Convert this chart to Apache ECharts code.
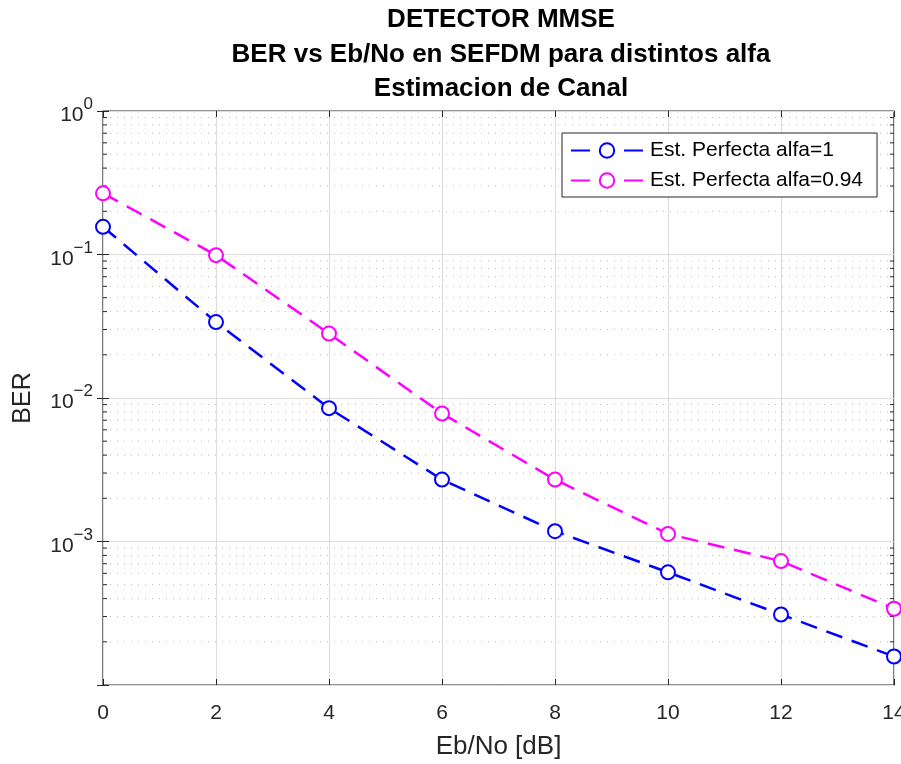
<!DOCTYPE html>
<html>
<head>
<meta charset="utf-8">
<script src="https://cdn.jsdelivr.net/npm/echarts@6/dist/echarts.min.js"></script>
<style>
html,body{margin:0;padding:0;background:#fff;}
#chart{width:901px;height:764px;}
</style>
</head>
<body>
<div id="chart"></div>
<script>
// ---- data ----
const ebNo = [0, 2, 4, 6, 8, 10, 12, 14];
const berAlfa1 = [0.156, 0.0338, 0.0085, 0.0027, 0.00118, 6.1e-4, 3.1e-4, 1.58e-4];
const berAlfa094 = [0.267, 0.099, 0.0281, 0.0078, 0.0027, 1.13e-3, 7.3e-4, 3.4e-4];
const seriesNames = ['Est. Perfecta alfa=1', 'Est. Perfecta alfa=0.94'];
const yDecades = [-4, -3, -2, -1, 0];
const xTicks = [0, 2, 4, 6, 8, 10, 12, 14];
const minorMultipliers = [2, 3, 4, 5, 6, 7, 8, 9];

const titleLines = ['DETECTOR MMSE', 'BER vs Eb/No en SEFDM para distintos alfa', 'Estimacion de Canal'];

const minorValues = [];
yDecades.slice(0, -1).forEach(function (d) {
  minorMultipliers.forEach(function (m) { minorValues.push(m * Math.pow(10, d)); });
});

const FONT = 'Liberation Sans, Arial, Helvetica, sans-serif';
const AXC = '#262626';
const X_MIN = xTicks[0], X_MAX = xTicks[xTicks.length - 1];

const chart = echarts.init(document.getElementById('chart'), null, {renderer: 'canvas'});

function pairs(xs, ys) { return xs.map(function (x, i) { return [x, ys[i]]; }); }

const option = {
  backgroundColor: '#ffffff',
  animation: false,
  title: {
    text: titleLines.join('\n'),
    left: 496,
    textAlign: 'center',
    top: -2,
    textStyle: {fontFamily: FONT, fontSize: 26, fontWeight: 'bold', color: '#000', lineHeight: 34.5}
  },
  legend: {
    orient: 'vertical',
    left: 562,
    top: 133,
    padding: [7, 14, 6, 8],
    itemGap: 9,
    itemWidth: 72,
    itemHeight: 18,
    backgroundColor: '#fff',
    borderColor: AXC,
    borderWidth: 1,
    borderRadius: 0,
    data: seriesNames,
    lineStyle: {type: [19, 34]},
    textStyle: {fontFamily: FONT, fontSize: 21, color: '#000', padding: [0, 0, 0, 2]}
  },
  grid: {left: 103, right: 7, top: 111, bottom: 79, outerBoundsMode: 'none', containLabel: false,
         show: true, borderColor: AXC, borderWidth: 1.2, backgroundColor: 'transparent'},
  xAxis: [{
    type: 'value', min: X_MIN, max: X_MAX, interval: 2,
    name: 'Eb/No [dB]', nameLocation: 'middle', nameGap: 49,
    nameTextStyle: {fontFamily: FONT, fontSize: 26, color: AXC},
    axisLine: {show: false},
    axisTick: {inside: true, length: 6, lineStyle: {color: AXC}},
    axisLabel: {margin: 18, fontFamily: FONT, fontSize: 21, color: AXC, showMaxLabel: true},
    splitLine: {show: true, lineStyle: {color: '#dcdcdc', width: 1}}
  }, {
    type: 'value', min: X_MIN, max: X_MAX, interval: 2, position: 'top',
    axisLine: {show: false},
    axisTick: {inside: true, length: 6, lineStyle: {color: AXC}},
    axisLabel: {show: false},
    splitLine: {show: false}
  }],
  yAxis: [{
    type: 'log', logBase: 10, min: Math.pow(10, yDecades[0]), max: Math.pow(10, yDecades[yDecades.length - 1]),
    name: 'BER', nameLocation: 'middle', nameGap: 67,
    nameTextStyle: {fontFamily: FONT, fontSize: 25, color: AXC},
    axisLine: {show: false},
    axisTick: {inside: true, length: 6, lineStyle: {color: AXC}},
    axisLabel: {
      margin: 10,
      formatter: function (v) {
        const e = Math.round(Math.log10(v));
        if (e === yDecades[0]) return '';
        return '{b|10}{s|' + (e < 0 ? '\u2212' + (-e) : e) + '}';
      },
      rich: {
        b: {fontFamily: FONT, fontSize: 21, color: AXC, lineHeight: 30, verticalAlign: 'bottom'},
        s: {fontFamily: FONT, fontSize: 17, color: AXC, lineHeight: 16, verticalAlign: 'top'}
      }
    },
    splitLine: {show: true, lineStyle: {color: '#dcdcdc', width: 1}}
  }, {
    type: 'log', logBase: 10, min: Math.pow(10, yDecades[0]), max: Math.pow(10, yDecades[yDecades.length - 1]),
    position: 'right',
    axisLine: {show: false},
    axisTick: {inside: true, length: 6, lineStyle: {color: AXC}},
    axisLabel: {show: false},
    splitLine: {show: false}
  }],
  series: [{
    type: 'custom',
    name: 'minorGrid',
    silent: true,
    z: 1,
    xAxisIndex: 0, yAxisIndex: 0,
    data: minorValues,
    encode: {y: 0},
    renderItem: function (params, api) {
      const v = api.value(0);
      const pL = api.coord([X_MIN, v]);
      const pR = api.coord([X_MAX, v]);
      return {
        type: 'group',
        children: [{
          type: 'line',
          shape: {x1: pL[0], y1: pL[1], x2: pR[0], y2: pR[1]},
          style: {stroke: '#b8b8b8', lineWidth: 1, lineDash: [1, 6]}
        }, {
          type: 'line',
          shape: {x1: pL[0], y1: pL[1], x2: pL[0] + 4, y2: pL[1]},
          style: {stroke: AXC, lineWidth: 1}
        }, {
          type: 'line',
          shape: {x1: pR[0], y1: pR[1], x2: pR[0] - 4, y2: pR[1]},
          style: {stroke: AXC, lineWidth: 1}
        }]
      };
    }
  }, {
    type: 'line',
    name: seriesNames[0],
    data: pairs(ebNo, berAlfa1),
    symbol: 'emptyCircle',
    symbolSize: 14,
    z: 3,
    lineStyle: {color: '#0000ff', width: 2.5, type: [17, 10]},
    itemStyle: {color: '#0000ff', borderColor: '#0000ff', borderWidth: 2},
    emphasis: {disabled: true}
  }, {
    type: 'line',
    name: seriesNames[1],
    data: pairs(ebNo, berAlfa094),
    symbol: 'emptyCircle',
    symbolSize: 14,
    z: 3,
    lineStyle: {color: '#ff00ff', width: 2.5, type: [17, 10]},
    itemStyle: {color: '#ff00ff', borderColor: '#ff00ff', borderWidth: 2},
    emphasis: {disabled: true}
  }]
};
chart.setOption(option);
</script>
</body>
</html>
